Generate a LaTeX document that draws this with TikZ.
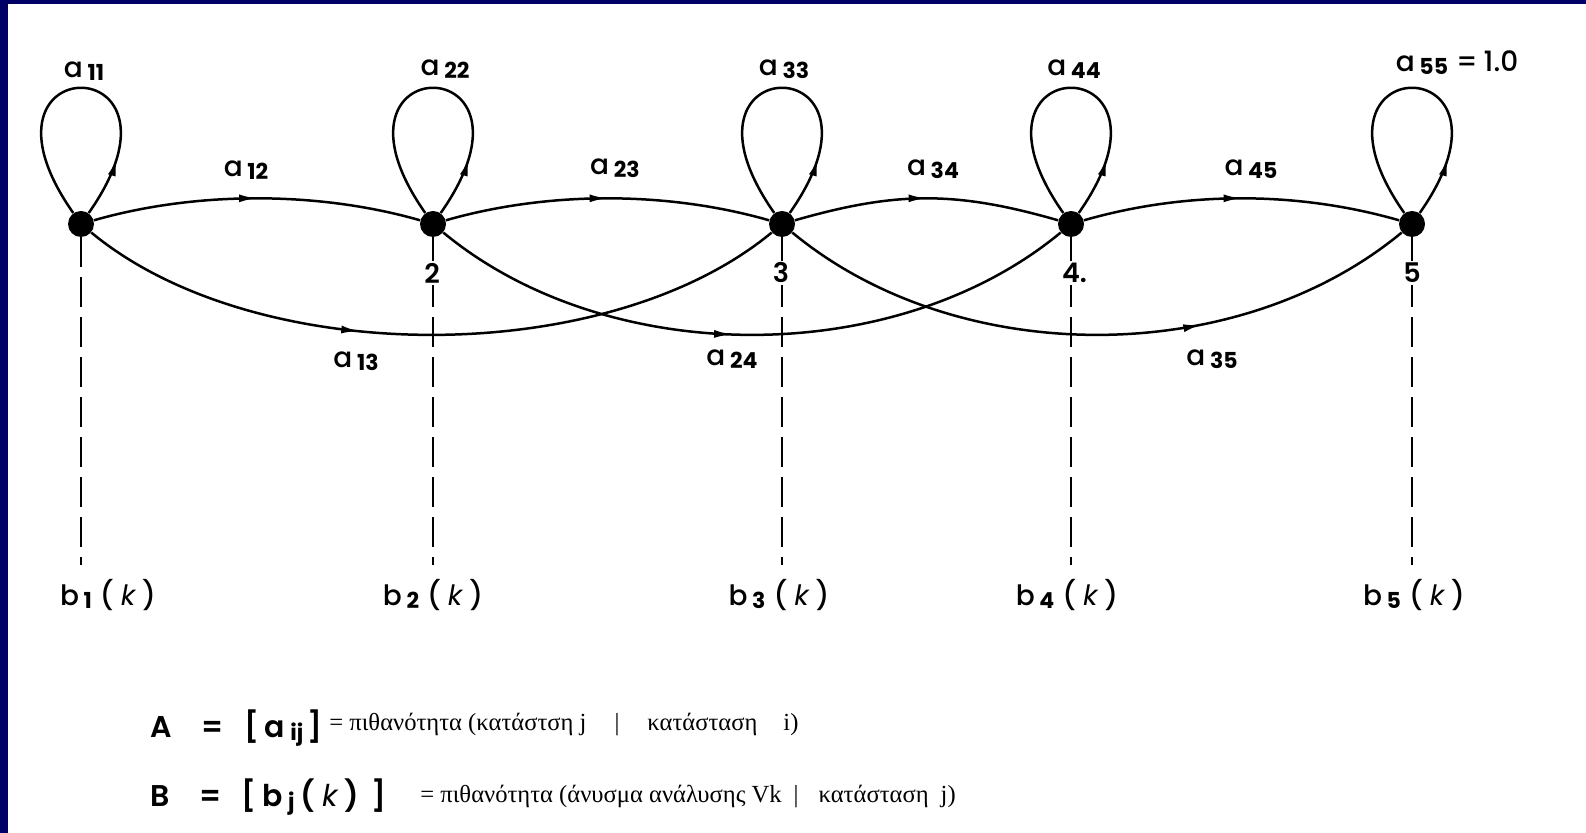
\documentclass[tikz,border=0pt]{standalone}
\usepackage{fontspec}
\setmainfont{Poppins}
\newfontfamily\labfont{Poppins Medium}
\newfontfamily\numfont{Poppins SemiBold}
\newfontfamily\grfont{Liberation Serif}
\usetikzlibrary{arrows.meta,decorations.markings}

\definecolor{frame}{RGB}{0,0,102}
\tikzset{
  state/.style={circle,fill=black,minimum size=13pt,inner sep=0pt},
  arc/.style={line width=1.25pt},
  midarrow/.style={postaction={decorate},decoration={markings,
      mark=at position #1 with {\arrow{Latex[length=9pt,width=4pt]}}}},
  midarrow/.default=0.5,
  obs/.style={line width=1.2pt,dash pattern=on 15pt off 5pt},
  lab/.style={font=\labfont\fontsize{14}{16}\selectfont,inner sep=1pt},
  num/.style={font=\numfont\fontsize{13.5}{16}\selectfont,fill=white,inner sep=1pt},
  legend/.style={anchor=west,font=\numfont\fontsize{15}{18}\selectfont,inner sep=0pt},
  gr/.style={anchor=west,font=\grfont\fontsize{12.3}{14}\selectfont,inner sep=0pt},
}
\newcommand\sub[1]{\,\raisebox{-0.2ex}{\rmfamily\bfseries\fontsize{11}{12}\selectfont #1}}
\newcommand\kk{\hspace{3.5pt}{\rmfamily\itshape k}\hspace{3.5pt}}

\begin{document}
\begin{tikzpicture}[x=0.5pt,y=-0.5pt]
  \useasboundingbox (0,0) rectangle (1586,833);
  \fill[frame] (0,0) rectangle (1586,4);
  \fill[frame] (0,0) rectangle (8,833);

  % states and observation lines
  \foreach \i/\x in {1/81,2/433,3/782,4/1071,5/1412} {
    \node[state] (n\i) at (\x,224) {};
    \coordinate (e\i) at (\x,565);
    \draw[obs] (n\i) -- (e\i);
  }

  % self loops
  \foreach \i in {1,...,5}
    \draw[arc,midarrow=0.2] (n\i) .. controls +(125,-178) and +(-125,-178) .. (n\i);
  % one step
  \foreach \i/\j in {1/2,2/3,3/4,4/5}
    \draw[arc,midarrow] (n\i) .. controls +(115,-33) and +(-115,-33) .. (n\j);
  % two steps
  \foreach \i/\j/\p in {1/3/0.4,2/4/0.47,3/5/0.66}
    \draw[arc,midarrow=\p] (n\i) .. controls +(175,145) and +(-175,145) .. (n\j);

  % labels
  \foreach \n/\x/\y in {11/84/71,22/445/69,33/784/69,44/1074/69,
                        12/246/170,23/615/168,34/933/169,45/1251/169,
                        13/356/361,24/732/359,35/1212/359}
    \node[lab] (a\n) at (\x,\y) {a\sub{\n}};
  \node[lab] (a55) at (1457,63) {a\sub{55}\hspace{4pt}=\hspace{3pt}1.0};

  \foreach \i/\t/\x in {2/2/432,3/3/781,4/4\rlap{.}/1071,5/5/1412}
    \node[num] (k\i) at (\x,273) {\t};

  \foreach \i/\x in {1/108,2/433,3/779,4/1067,5/1414}
    \node[lab] (b\i) at (\x,595) {b\sub{\i}\hspace{4pt}(\kk)};

  % legend
  \node[legend] (A) at (150,728)
    {A\hspace{15pt}=\hspace{10pt}[\hspace{3pt}a\sub{ij}\hspace{2pt}]};
  \node[gr] (Atext) at (329,724)
    {= πιθανότητα (κατάστση j\hspace{14pt}|\hspace{14pt}κατάσταση\hspace{13pt}i)};
  \node[legend] (B) at (150,797)
    {B\hspace{15pt}=\hspace{10pt}[\hspace{3pt}b\sub{j}\hspace{3pt}(\kk)\hspace{6pt}]};
  \node[gr] (Btext) at (420,796)
    {= πιθανότητα (άνυσμα ανάλυσης Vk\hspace{6pt}|\hspace{10pt}κατάσταση\hspace{6pt}j)};
\end{tikzpicture}
\end{document}
